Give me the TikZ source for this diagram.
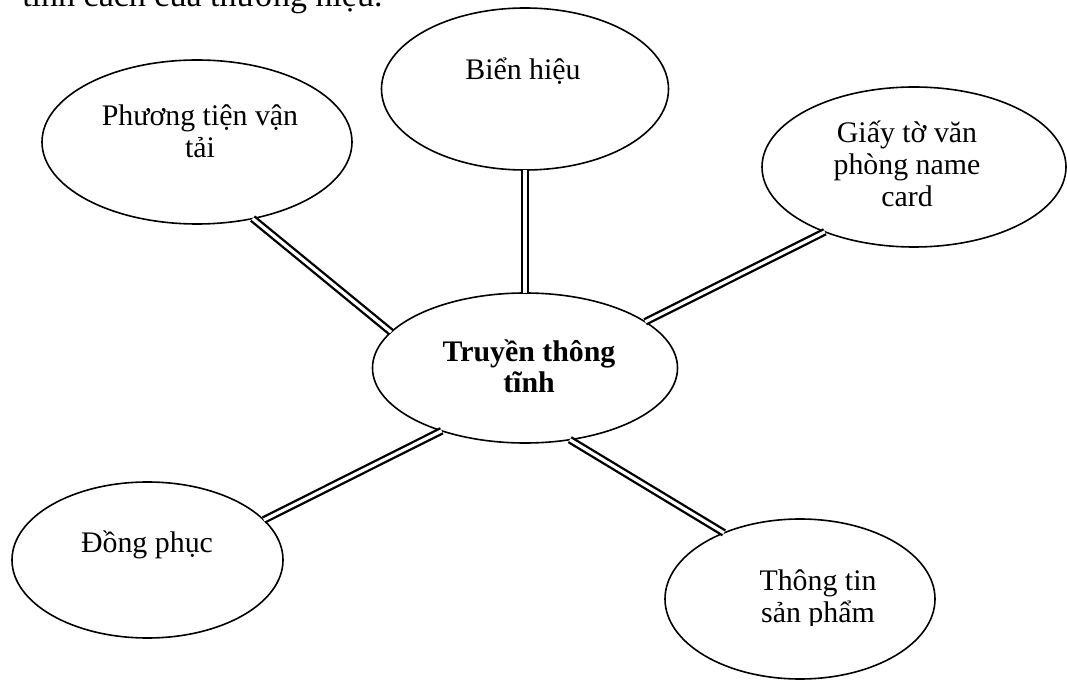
\documentclass[tikz,border=0pt]{standalone}
\usepackage{fontspec}
\setmainfont{Liberation Serif}
\usetikzlibrary{shapes.geometric}
\begin{document}
\begin{tikzpicture}[x=0.75pt,y=-0.75pt,
  bubble/.style={draw, ellipse, line width=1.2pt, inner sep=0pt, outer sep=0pt},
  link/.style={double, double distance=2.4pt, line width=1.75pt},
  lbl/.style={anchor=base, inner sep=0pt, font=\fontsize{22.4}{25}\selectfont},
  ]
\useasboundingbox (0,0) rectangle (1067,680);

% running text above the diagram
\node[anchor=base west, inner sep=0pt, font=\fontsize{25.5}{28}\selectfont]
  (head) at (22,7) {tính cách của thương hiệu.};

% bubbles
\node[bubble, minimum width=232.5pt, minimum height=123pt]   (pt) at (197,142) {};
\node[bubble, minimum width=215.25pt, minimum height=121.5pt] (bh) at (525,89) {};
\node[bubble, minimum width=228pt, minimum height=120pt]     (gt) at (914,167) {};
\node[bubble, minimum width=228.75pt, minimum height=112.5pt] (c) at (525,368) {};
\node[bubble, minimum width=203.25pt, minimum height=117pt]  (dp) at (147.5,560) {};
\node[bubble, minimum width=202.5pt, minimum height=120pt]   (tt) at (800,599) {};

% labels
\node[lbl] (pt1) at (200,126) {Phương tiện vận};
\node[lbl] (pt2) at (200,158) {tải};
\node[lbl] (bh1) at (523,80) {Biển hiệu};
\node[lbl] (gt1) at (907,143) {Giấy tờ văn};
\node[lbl] (gt2) at (907,175) {phòng name};
\node[lbl] (gt3) at (907,207) {card};
\node[lbl, font=\fontsize{22.4}{25}\selectfont\bfseries] (c1) at (529,362) {Truyền thông};
\node[lbl, font=\fontsize{22.4}{25}\selectfont\bfseries] (c2) at (529,393) {tĩnh};
\node[lbl] (dp1) at (147,552) {Đồng phục};
\node[lbl] (tt1) at (818,590) {Thông tin};
\begin{scope}
  \clip (700,600) rectangle (940,625);
  \node[lbl] (tt2) at (818,622) {sản phẩm};
\end{scope}

% double connectors to the hub
\draw[link] (pt.-54)   -- (c.165.8);
\draw[link] (bh.south) -- (c.north);
\draw[link] (gt.216.8) -- (c.21.1);
\draw[link] (dp.19.3)  -- (c.217.3);
\draw[link] (tt.139)   -- (c.-58.7);
\end{tikzpicture}
\end{document}
